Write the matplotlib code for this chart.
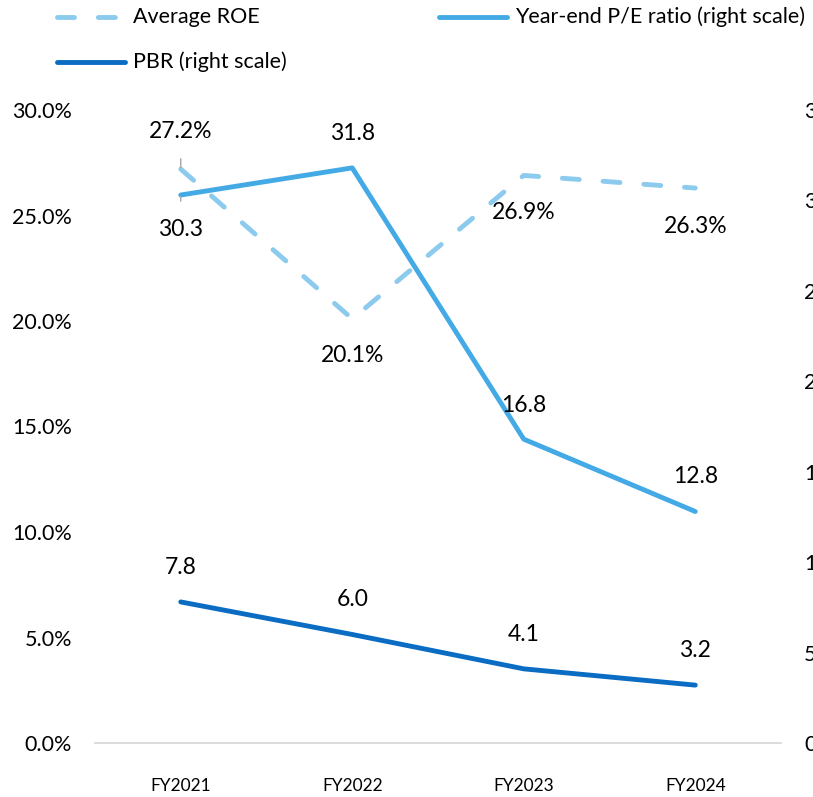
import matplotlib
matplotlib.use("Agg")
import matplotlib.pyplot as plt
from matplotlib.lines import Line2D

plt.rcParams["font.family"] = ["Lato", "DejaVu Sans"]

# Fiscal years and series
years = ["FY2021", "FY2022", "FY2023", "FY2024"]
avg_roe = [27.2, 20.1, 26.9, 26.3]      # %, left scale
pe_ratio = [30.3, 31.8, 16.8, 12.8]     # right scale
pbr = [7.8, 6.0, 4.1, 3.2]              # right scale

c_roe = "#8DCBEE"
c_pe = "#43AAE6"
c_pbr = "#0A6CC2"
LW = 3.5
ROE_DASH = (3.5, 4.9)

fig = plt.figure(figsize=(8.13, 7.97), dpi=100)
ax = fig.add_axes([95 / 813, 1 - 743 / 797, (781 - 95) / 813, (743 - 110) / 797])
ax2 = ax.twinx()

x = list(range(len(years)))

ax.plot(x, [v / 100 for v in avg_roe], color=c_roe, lw=LW, dashes=ROE_DASH,
        dash_capstyle="round", solid_capstyle="round", zorder=2)
ax2.plot(x, pe_ratio, color=c_pe, lw=LW, solid_capstyle="round", zorder=3)
ax2.plot(x, pbr, color=c_pbr, lw=LW, solid_capstyle="round", zorder=3)

ax.set_xlim(-0.5, 3.5)
ax.set_ylim(0, 0.30)
ax2.set_ylim(0, 35)
ax.set_yticks([i * 0.05 for i in range(7)])
ax.set_yticklabels([f"{i * 5:.1f}%" for i in range(7)])
ax2.set_yticks(range(0, 36, 5))
ax.set_xticks(x)
ax.set_xticklabels(years)

ax.tick_params(axis="y", length=0, pad=16.5, labelsize=15.5, colors="black")
ax2.tick_params(axis="y", length=0, pad=16.5, labelsize=15.5, colors="black")
ax.tick_params(axis="x", length=0, pad=25, labelsize=12.5)

for a in (ax, ax2):
    for s in ("top", "left", "right"):
        a.spines[s].set_visible(False)
    a.spines["bottom"].set_color("#D9D9D9")
    a.spines["bottom"].set_linewidth(1.3)
ax2.spines["bottom"].set_visible(False)

lbl = dict(fontsize=16.5, ha="center", va="center", textcoords="offset points")
lead = dict(arrowstyle="-", color="#A6A6A6", lw=1, shrinkA=0, shrinkB=0)

# ROE labels
roe_off = [(0, 27), (0, -26), (0, -27), (0, -28)]
for i, v in enumerate(avg_roe):
    kw = dict(lbl)
    if i == 0:
        kw["arrowprops"] = dict(lead, shrinkA=10, shrinkB=1)
    ax.annotate(f"{v:.1f}%", (i, v / 100), xytext=roe_off[i], **kw)

# P/E labels
pe_off = [(0, -25), (0, 25), (0, 24), (0, 25)]
for i, v in enumerate(pe_ratio):
    kw = dict(lbl)
    if i == 0:
        kw["arrowprops"] = dict(lead, shrinkA=11, shrinkB=1)
    ax2.annotate(f"{v:.1f}", (i, v), xytext=pe_off[i], **kw)

# PBR labels
for i, v in enumerate(pbr):
    ax2.annotate(f"{v:.1f}", (i, v), xytext=(0, 25), **lbl)

# Legend laid out in rows (pixel positions of handle start and row centre)
legend_items = [
    ("Average ROE", c_roe, True, 57, 17),
    ("Year-end P/E ratio (right scale)", c_pe, False, 439, 17),
    ("PBR (right scale)", c_pbr, False, 57, 62),
]
for name, col, dashed, px, py in legend_items:
    lx, ly = px / 813, 1 - py / 797
    ln = Line2D([lx, lx + 68 / 813], [ly, ly], transform=fig.transFigure,
                color=col, lw=LW, solid_capstyle="round", dash_capstyle="round")
    if dashed:
        ln.set_dashes(ROE_DASH)
    fig.add_artist(ln)
    fig.text(lx + 76 / 813, ly, name, fontsize=15.5, va="center", ha="left")

fig.savefig("out.png", dpi=100)
